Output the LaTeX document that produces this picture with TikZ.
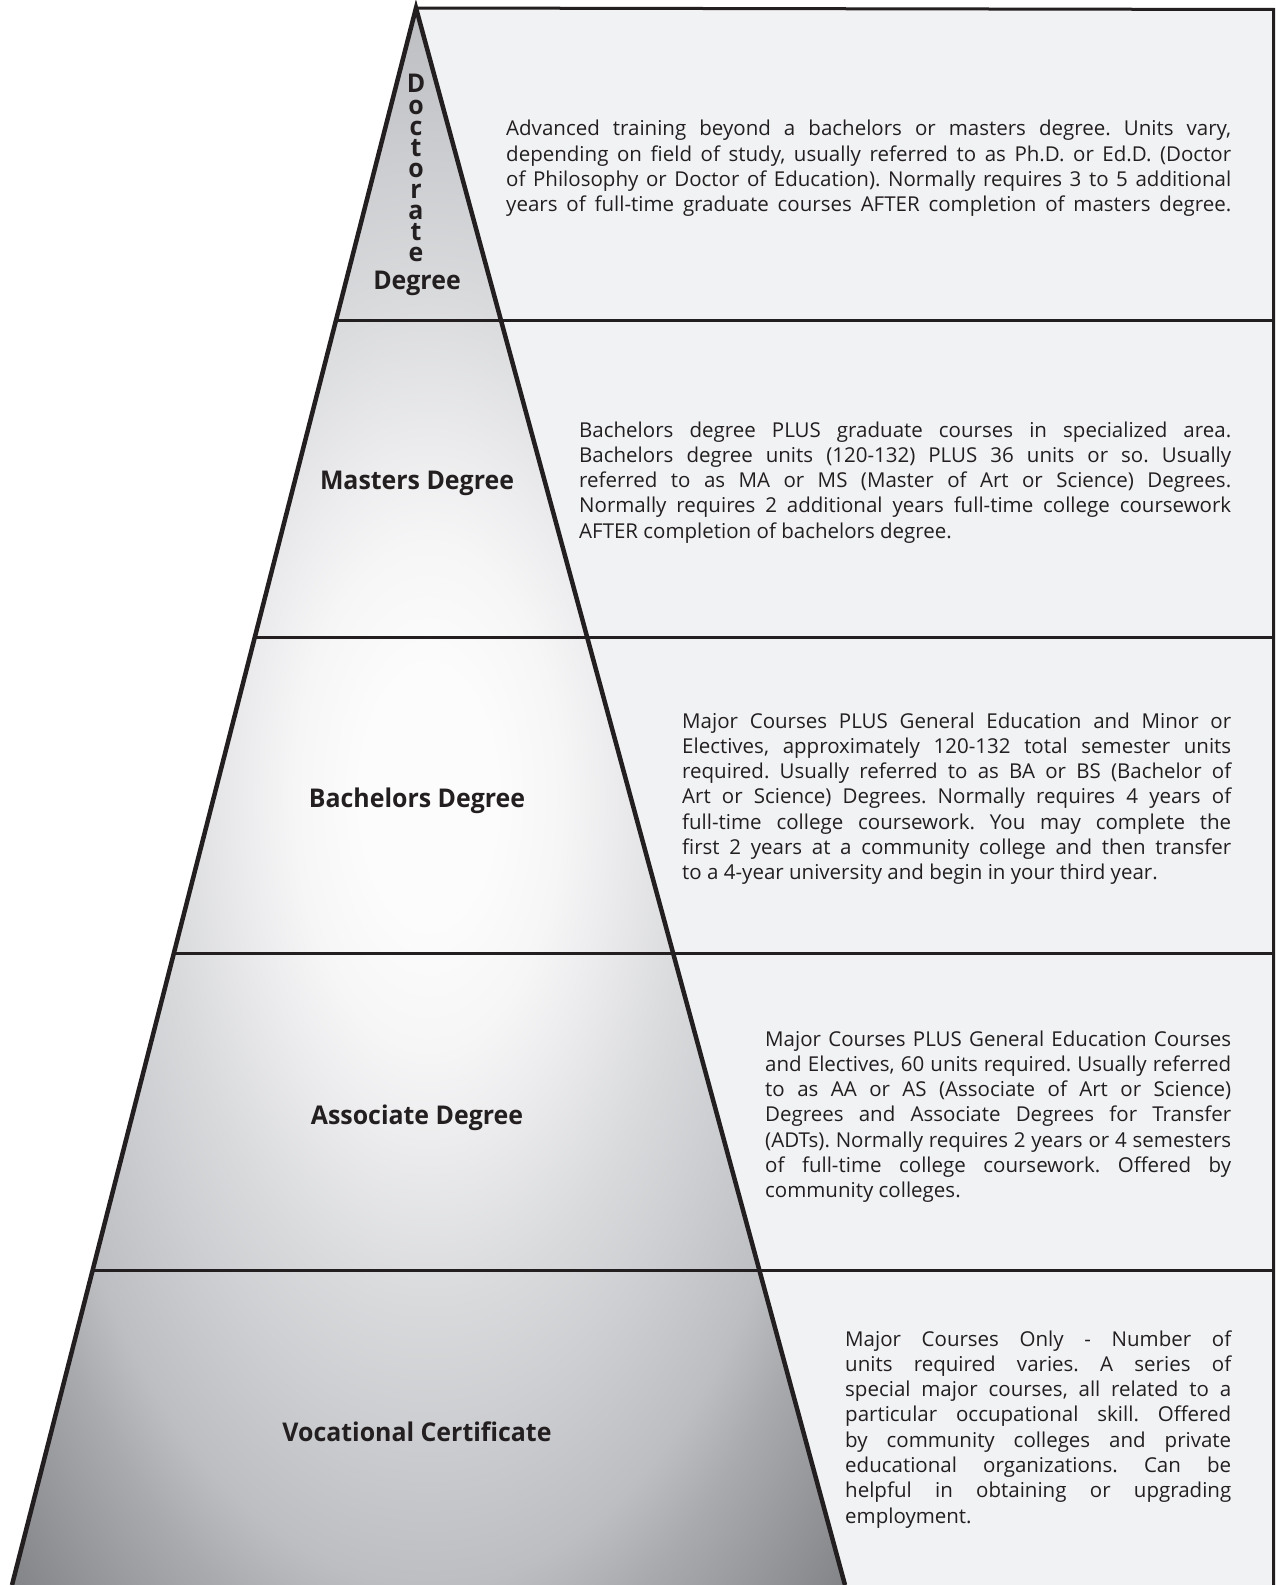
\documentclass[tikz,border=0pt]{standalone}
\usepackage{fontspec}
\setmainfont{Open Sans}
\newfontfamily\lblfont{Open Sans}[FakeStretch=0.965]
\frenchspacing
\definecolor{panel}{HTML}{F1F2F4}
\definecolor{ink}{HTML}{231F20}
\definecolor{sA}{HTML}{FCFCFC}
\definecolor{sB}{HTML}{F6F6F7}
\definecolor{sC}{HTML}{ECECEE}
\definecolor{sD}{HTML}{D9DADC}
\definecolor{sE}{HTML}{CDCED1}
\definecolor{sF}{HTML}{BDBEC1}
\definecolor{sG}{HTML}{A9AAAE}
\definecolor{sH}{HTML}{85868A}
\pgfdeclareradialshading{pyrshade}{\pgfpoint{0bp}{0bp}}{color(0bp)=(sA); color(4bp)=(sA); color(8bp)=(sB); color(11bp)=(sC); color(16bp)=(sD); color(20bp)=(sE); color(25bp)=(sF); color(28bp)=(sG); color(35bp)=(sH); color(50bp)=(sH)}
\newcommand{\jline}[1]{\hbox to\hsize{\spaceskip=0.26em plus 3em minus 0.06em\relax #1}}
\newcommand{\lline}[1]{\hbox to\hsize{\spaceskip=0.26em plus 0.1em minus 0.06em\relax #1\hfil}}
\newcommand{\ctrline}[1]{\hbox to\hsize{\hss #1\hss}}
\tikzset{
  body/.style={font=\fontsize{20.5bp}{25.3bp}\selectfont\frenchspacing, text=ink, inner sep=0pt, anchor=base west},
  lbl/.style={font=\fontsize{25.8bp}{30bp}\selectfont\lblfont\bfseries, text=ink, inner sep=0pt, anchor=base},
  pyredge/.style={draw=ink, line width=4.5bp, line join=miter},
  hline/.style={draw=ink, line width=3bp},
  border/.style={draw=ink, line width=3bp}
}
\newcommand{\txtblock}[2]{\vtop{\hsize=#1\baselineskip=25.3bp\lineskiplimit=-20bp #2}}
\begin{document}
\begin{tikzpicture}[x=1bp, y=-1bp]
\useasboundingbox[fill=white] (0,0) rectangle (1275,1585);
% key points
\coordinate (apex) at (416,8);
\coordinate (bl) at (12,1585);
\coordinate (br) at (845,1585);
\coordinate (tr) at (1273.5,9.5);
\coordinate (bbr) at (1273.5,1585);
\coordinate (l1) at (336.1,320);
\coordinate (l2) at (254.9,637);
\coordinate (l3) at (173.9,953);
\coordinate (l4) at (92.7,1270);
\coordinate (r1) at (1273.5,320);
\coordinate (r2) at (1273.5,637);
\coordinate (r3) at (1273.5,953);
\coordinate (r4) at (1273.5,1270);
% right panel
\fill[panel] (apex) -- (tr) -- (bbr) -- (br) -- cycle;
% pyramid
\shade[shading=pyrshade] (apex) -- (br) -- (bl) -- cycle;
% horizontal rules
\draw[hline] (l1) -- (r1);
\draw[hline] (l2) -- (r2);
\draw[hline] (l3) -- (r3);
\draw[hline] (l4) -- (r4);
% pyramid edges and border
\draw[pyredge] (bl) -- (apex) -- (br);
\draw[border] (apex) -- (tr) -- (bbr);
% labels
\node[lbl] (docv) at (416,93) {\vtop{\hsize=30bp\baselineskip=21.1bp\lineskiplimit=-30bp
\ctrline{D}\ctrline{o}\ctrline{c}\ctrline{t}\ctrline{o}\ctrline{r}\ctrline{a}\ctrline{t}\ctrline{e}}};
\node[lbl] (docdeg) at (417,289) {Degree};
\node[lbl] (mas) at (417,489) {Masters Degree};
\node[lbl] (bac) at (417,807) {Bachelors Degree};
\node[lbl] (ass) at (417,1124) {Associate Degree};
\node[lbl] (voc) at (417,1441) {Vocational Certificate};
% descriptions
\node[body] (tdoc) at (506,136) {\txtblock{725bp}{%
\jline{Advanced training beyond a bachelors or masters degree. Units vary,}
\jline{depending on field of study, usually referred to as Ph.D. or Ed.D. (Doctor}
\jline{of Philosophy or Doctor of Education). Normally requires 3 to 5 additional}
\jline{years of full-time graduate courses AFTER completion of masters degree.}}};
\node[body] (tmas) at (579,437) {\txtblock{652bp}{%
\jline{Bachelors degree PLUS graduate courses in specialized area.}
\jline{Bachelors degree units (120-132) PLUS 36 units or so. Usually}
\jline{referred to as MA or MS (Master of Art or Science) Degrees.}
\jline{Normally requires 2 additional years full-time college coursework}
\lline{AFTER completion of bachelors degree.}}};
\node[body] (tbac) at (682,728) {\txtblock{549bp}{%
\jline{Major Courses PLUS General Education and Minor or}
\jline{Electives, approximately 120-132 total semester units}
\jline{required. Usually referred to as BA or BS (Bachelor of}
\jline{Art or Science) Degrees. Normally requires 4 years of}
\jline{full-time college coursework. You may complete the}
\jline{first 2 years at a community college and then transfer}
\lline{to a 4-year university and begin in your third year.}}};
\node[body] (tass) at (765,1046) {\txtblock{466bp}{%
\jline{Major Courses PLUS General Education Courses}
\jline{and Electives, 60 units required. Usually referred}
\jline{to as AA or AS (Associate of Art or Science)}
\jline{Degrees and Associate Degrees for Transfer}
\jline{(ADTs). Normally requires 2 years or 4 semesters}
\jline{of full-time college coursework. Offered by}
\lline{community colleges.}}};
\node[body] (tvoc) at (845,1346) {\txtblock{386bp}{%
\jline{Major Courses Only - Number of}
\jline{units required varies. A series of}
\jline{special major courses, all related to a}
\jline{particular occupational skill. Offered}
\jline{by community colleges and private}
\jline{educational organizations. Can be}
\jline{helpful in obtaining or upgrading}
\lline{employment.}}};
\end{tikzpicture}
\end{document}
